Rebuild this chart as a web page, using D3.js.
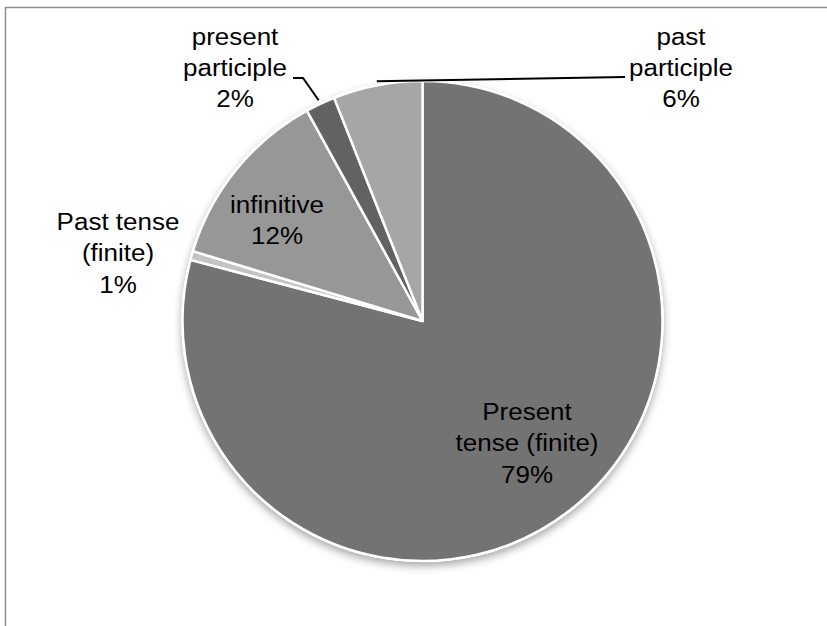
<!DOCTYPE html>
<html>
<head>
<meta charset="utf-8">
<script src="https://cdn.jsdelivr.net/npm/d3@7"></script>
<style>
  body { margin: 0; background: #fff; }
  svg { display: block; font-family: "Liberation Sans", Arial, sans-serif; }
</style>
</head>
<body>
<div id="chart"></div>
<script>
// data (percent of forms)
const categories = ["Present tense (finite)", "Past tense (finite)", "infinitive", "present participle", "past participle"];
const values = [79.1, 0.6, 12.3, 2.0, 6.0];
const labelLines = [["Present", "tense (finite)"], ["Past tense", "(finite)"], ["infinitive"], ["present", "participle"], ["past", "participle"]];
const fills = ["#737373", "#c4c4c4", "#979797", "#626262", "#a6a6a6"];

const W = 827, H = 626;
const cx = 422.5, cy = 321, R = 240;

// where the text blocks sit (Excel places them by hand)
const labelPos = [
  { x: 527, y: 420 },
  { x: 118, y: 230 },
  { x: 277, y: 213 },
  { x: 235, y: 44.5 },
  { x: 681, y: 44.5 }
];
// leader lines: elbow points near the label, the slice end is computed
const leaders = {
  3: [[293, 78], [303, 78]],
  4: [[625, 77]]
};

const svg = d3.select("#chart").append("svg")
  .attr("width", W)
  .attr("height", H);

const defs = svg.append("defs");
const shadow = defs.append("filter")
  .attr("id", "shadow")
  .attr("x", "-20%").attr("y", "-20%")
  .attr("width", "140%").attr("height", "140%");
shadow.append("feDropShadow")
  .attr("dx", 0).attr("dy", 4)
  .attr("stdDeviation", 4)
  .attr("flood-color", "#000")
  .attr("flood-opacity", 0.35);

// frame
svg.append("rect")
  .attr("x", 5.5).attr("y", 7.5)
  .attr("width", 1000).attr("height", 1000)
  .attr("fill", "none")
  .attr("stroke", "#8e8e8e")
  .attr("stroke-width", 1.5);

const pie = d3.pie().sort(null).value(d => d);
const arcs = pie(values);
const arc = d3.arc().innerRadius(0).outerRadius(R);
const rimArc = d3.arc().innerRadius(R + 4).outerRadius(R + 4);

const g = svg.append("g").attr("transform", `translate(${cx},${cy})`);

// shadow disc under the pie
g.append("circle")
  .attr("r", R + 1)
  .attr("fill", "#fff")
  .attr("filter", "url(#shadow)");

g.selectAll("path.slice")
  .data(arcs)
  .join("path")
  .attr("class", "slice")
  .attr("d", arc)
  .attr("fill", (d, i) => fills[i])
  .attr("stroke", "#fff")
  .attr("stroke-width", 2.5)
  .attr("stroke-linejoin", "round");

// leader lines
Object.entries(leaders).forEach(([i, pts]) => {
  const c = rimArc.centroid(arcs[+i]);
  const all = pts.concat([[c[0] + cx, c[1] + cy]]);
  svg.append("path")
    .attr("d", d3.line()(all))
    .attr("fill", "none")
    .attr("stroke", "#000")
    .attr("stroke-width", 2);
});

// labels
const lineH = 31.5;
const labels = svg.selectAll("g.label")
  .data(categories)
  .join("g")
  .attr("class", "label")
  .attr("transform", (d, i) => `translate(${labelPos[i].x},${labelPos[i].y}) scale(1.13,1)`);

labels.each(function (d, i) {
  const t = d3.select(this).append("text")
    .attr("text-anchor", "middle")
    .attr("font-size", 23)
    .attr("fill", "#000");
  const lines = labelLines[i].concat([Math.round(values[i]) + "%"]);
  lines.forEach((s, k) => {
    t.append("tspan").attr("x", 0).attr("y", k * lineH).text(s);
  });
});
</script>
</body>
</html>
